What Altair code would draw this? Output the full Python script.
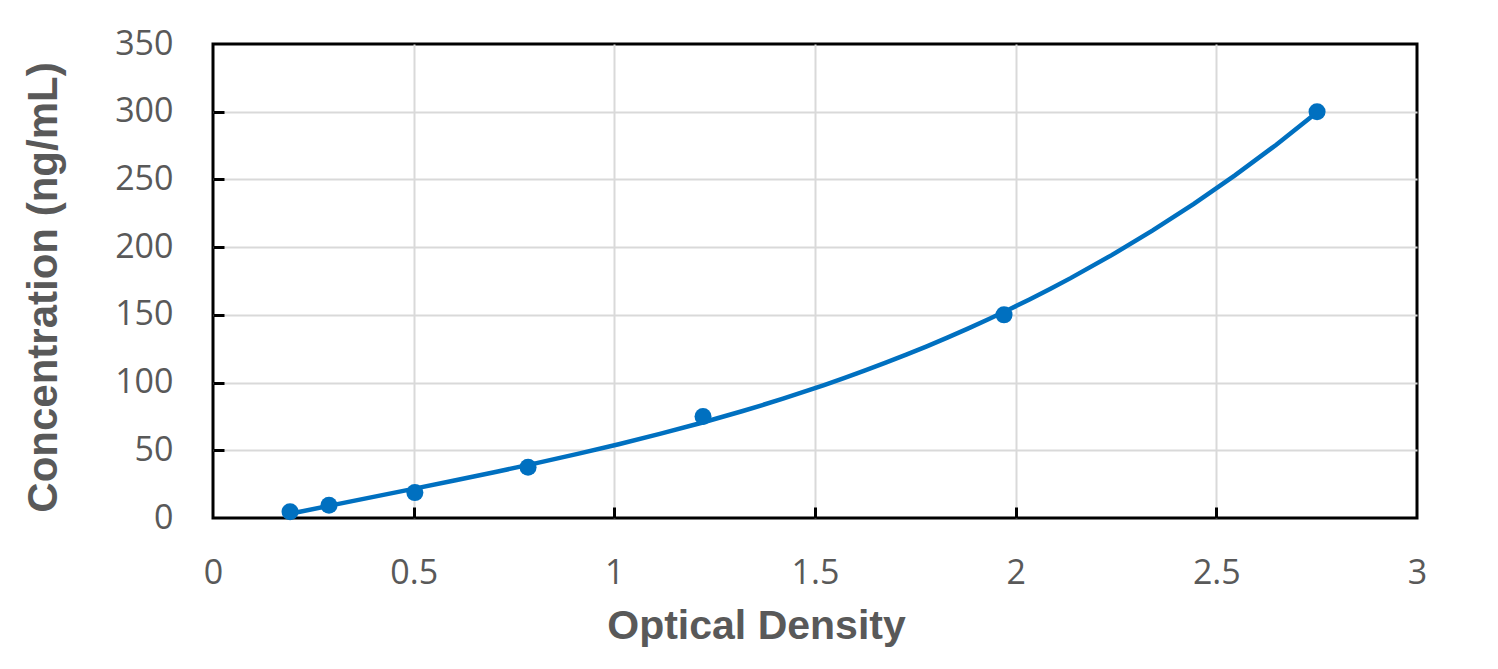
import altair as alt
import pandas as pd

# Standard curve data
optical_density = [0.192, 0.289, 0.503, 0.785, 1.221, 1.971, 2.751]
concentration = [4.69, 9.38, 18.75, 37.5, 75, 150, 300]

x_ticks = [0, 0.5, 1, 1.5, 2, 2.5, 3]
y_ticks = [0, 50, 100, 150, 200, 250, 300, 350]
x_inner = [0.5, 1, 1.5, 2, 2.5]
y_inner = [50, 100, 150, 200, 250, 300]

df = pd.DataFrame({"od": optical_density, "conc": concentration})

W, H = 1204, 474
BLUE = "#0070C0"
GRAY = "#595959"

xscale = alt.Scale(domain=[0, 3], nice=False, zero=False)
yscale = alt.Scale(domain=[0, 350], nice=False)

x_main = alt.Axis(
    orient="bottom", values=x_ticks, format="~g", title="Optical Density", grid=False,
    ticks=False, tickSize=0, domain=False, labelFont="Open Sans", labelFontSize=34,
    labelColor=GRAY, labelPadding=38, labelFlush=False,
    titleFont="Liberation Sans", titleFontSize=41, titleFontWeight="bold", titleColor=GRAY,
    titleX=543, titleY=120, titleAlign="center", titleBaseline="alphabetic",
)
y_main = alt.Axis(
    orient="left", values=y_ticks, format="d", title="Concentration (ng/mL)", grid=False,
    ticks=False, tickSize=0, domain=False, labelFont="Open Sans", labelFontSize=34,
    labelColor=GRAY, labelPadding=40, labelFlush=False,
    titleFont="Liberation Sans", titleFontSize=42, titleFontWeight="bold", titleColor=GRAY,
    titleX=-157, titleY=243, titleAngle=-90, titleAlign="center", titleBaseline="alphabetic",
)
x_ticks_axis = alt.Axis(
    orient="top", offset=-H, values=x_inner, labels=False, title=None,
    grid=True, gridColor="#D9D9D9", gridWidth=2,
    domain=False, ticks=True, tickSize=11, tickWidth=3, tickColor="#000000",
)
y_ticks_axis = alt.Axis(
    orient="right", offset=-W, values=y_inner, labels=False, title=None,
    grid=True, gridColor="#D9D9D9", gridWidth=2,
    domain=False, ticks=True, tickSize=11, tickWidth=3, tickColor="#000000",
)

base = alt.Chart(df)

fit = base.transform_regression(
    "od", "conc", method="poly", order=3, extent=[0.192, 2.751]
).mark_line(color=BLUE, strokeWidth=4.5).encode(
    x=alt.X("od:Q", scale=xscale, axis=x_main),
    y=alt.Y("conc:Q", scale=yscale, axis=y_main),
)

pts = base.mark_circle(color=BLUE, opacity=1, size=290).encode(
    x=alt.X("od:Q", scale=xscale, axis=x_ticks_axis),
    y=alt.Y("conc:Q", scale=yscale, axis=y_ticks_axis),
)

chart = alt.layer(fit, pts).resolve_axis(
    x="independent", y="independent"
).properties(
    width=W, height=H,
    autosize=alt.AutoSizeParams(type="none"),
    padding={"left": 213, "top": 44, "right": 81, "bottom": 151},
).configure_view(stroke="#000000", strokeWidth=3)

chart.save("out.html", embed_options={"renderer": "svg", "actions": False})
